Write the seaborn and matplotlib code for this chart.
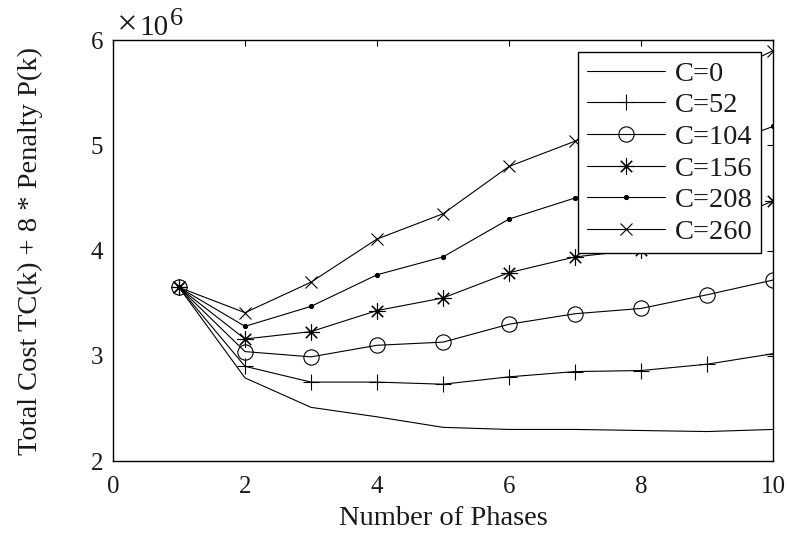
import numpy as np
import pandas as pd
import seaborn as sns
import matplotlib.pyplot as plt

# values (units of 1e6)
phases = [1, 2, 3, 4, 5, 6, 7, 8, 9, 10]
c_labels = ['C=0', 'C=52', 'C=104', 'C=156', 'C=208', 'C=260']
cost_c0 = [3.65, 2.79, 2.51, 2.42, 2.32, 2.30, 2.30, 2.29, 2.28, 2.30]
cost_c52 = [3.65, 2.90, 2.75, 2.75, 2.73, 2.80, 2.85, 2.86, 2.92, 3.02]
cost_c104 = [3.65, 3.04, 2.99, 3.10, 3.13, 3.30, 3.40, 3.45, 3.58, 3.72]
cost_c156 = [3.65, 3.16, 3.23, 3.43, 3.55, 3.79, 3.94, 4.01, 4.22, 4.47]
cost_c208 = [3.65, 3.28, 3.47, 3.77, 3.94, 4.30, 4.50, 4.70, 4.95, 5.18]
cost_c260 = [3.65, 3.41, 3.70, 4.11, 4.35, 4.80, 5.04, 5.30, 5.60, 5.90]

series = [cost_c0, cost_c52, cost_c104, cost_c156, cost_c208, cost_c260]

sns.set_style('white')
plt.rcParams['font.family'] = ['Liberation Serif', 'DejaVu Serif']
plt.rcParams['mathtext.fontset'] = 'stix'

txt = '#1a1a1a'
fig = plt.figure(figsize=(7.87, 5.34), dpi=100)
ax = fig.add_axes([0.1436, 0.1367, 0.8386, 0.788])

# marker styles per curve (matlab-like)
styles = [
    dict(marker=None),
    dict(marker='+', markersize=11.5, markeredgewidth=0.8),
    dict(marker='o', markersize=11, markerfacecolor='none', markeredgewidth=0.8),
    dict(marker=(8, 2, 0), markersize=11.5, markeredgewidth=0.8),
    dict(marker='.', markersize=6),
    dict(marker='x', markersize=9, markeredgewidth=0.8),
]

for lab, vals, st in zip(c_labels, series, styles):
    df = pd.DataFrame({'phase': phases, 'cost': np.array(vals) * 1e6})
    sns.lineplot(data=df, x='phase', y='cost', ax=ax, color='black',
                 linewidth=0.8, label=lab, markeredgecolor='black', **st)

ax.set_xlim(0, 10)
ax.set_ylim(2e6, 6e6)
ax.set_xticks([0, 2, 4, 6, 8, 10])
ax.set_yticks([2e6, 3e6, 4e6, 5e6, 6e6])
ax.set_yticklabels(['2', '3', '4', '5', '6'])
ax.tick_params(direction='in', top=True, right=True, length=4.5, width=0.8,
               labelsize=18, colors='black', labelcolor=txt)
ax.tick_params(axis='x', pad=11)
ax.tick_params(axis='y', pad=7)
for sp in ax.spines.values():
    sp.set_color('black')
    sp.set_linewidth(1.0)

ax.set_xlabel('Number of Phases', fontsize=20.5, color=txt)
ax.set_ylabel('Total Cost TC(k) + 8 * Penalty P(k)', fontsize=20.5, color=txt)
ax.xaxis.set_label_coords(0.5, -0.108)
ax.yaxis.set_label_coords(-0.106, 0.5)

# exponent label at the top left
fig.text(118 / 787, 1 - 23 / 534, r'$\times$', fontsize=19, color=txt,
         ha='left', va='center')
fig.text(139 / 787, 1 - 35 / 534, '10', fontsize=21, color=txt,
         ha='left', va='baseline')
fig.text(170 / 787, 1 - 25 / 534, '6', fontsize=19, color=txt,
         ha='left', va='baseline')

leg = ax.legend(loc='upper right', fontsize=20.5, frameon=True, fancybox=False,
                edgecolor='black', framealpha=1, handlelength=2.75,
                handletextpad=0.33, labelspacing=0.2, borderaxespad=0.42,
                borderpad=0.3)
leg.get_frame().set_linewidth(1.0)
for t in leg.get_texts():
    t.set_color(txt)

fig.savefig('out.png', dpi=100)
